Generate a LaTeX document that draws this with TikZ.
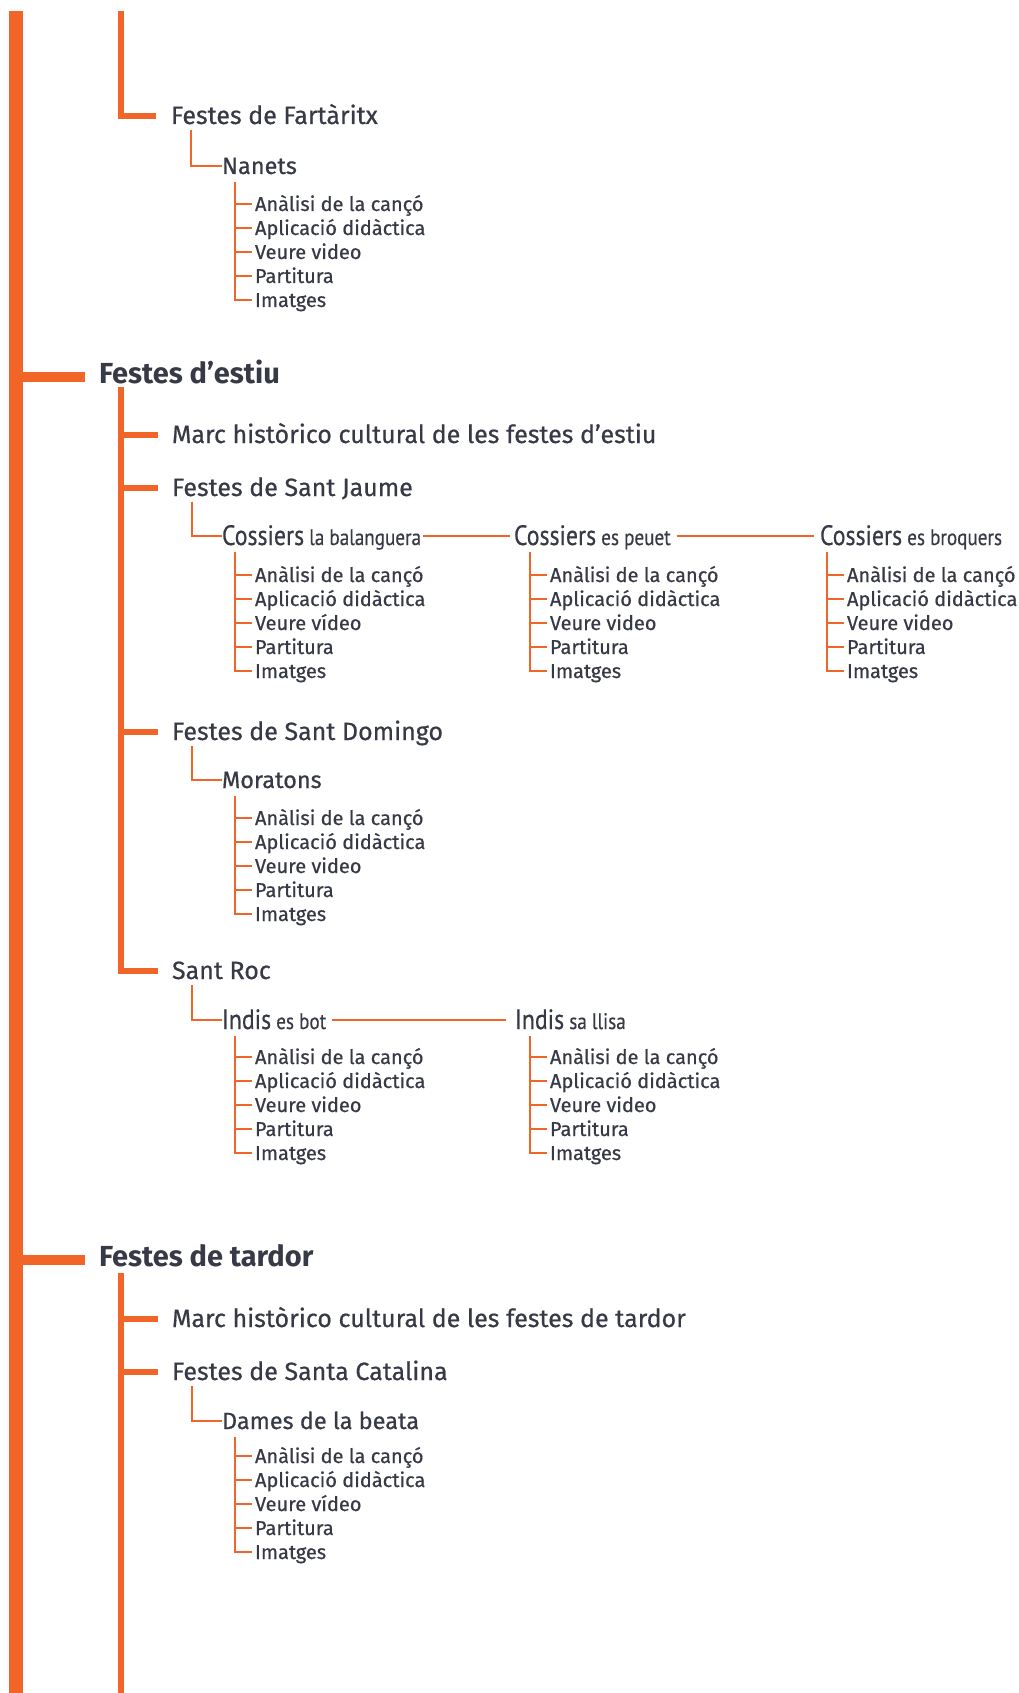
\documentclass[tikz,border=0pt]{standalone}
\usepackage{fontspec}
\setmainfont{Fira Sans}
\newfontfamily\heavyfont{Fira Sans}[FakeBold=0.6]
\newfontfamily\condfont{PT Sans}[FakeStretch=0.85, FakeBold=0.4]
\definecolor{orng}{RGB}{241,102,40}
\definecolor{txt}{RGB}{55,58,70}
\newcommand\smalltag[1]{{\fontsize{22.5}{22.5}\selectfont\ #1}}
\newcommand\leafset[5]{%
  \node[leaf] (#1a) at (#3,#4) {Anàlisi de la cançó};
  \node[leaf] (#1b) at (#3,#4+24) {Aplicació didàctica};
  \node[leaf] (#1c) at (#3,#4+48) {#5};
  \node[leaf] (#1d) at (#3,#4+72) {Partitura};
  \node[leaf] (#1e) at (#3,#4+96) {Imatges};
  \path ([yshift=-16pt]#2.west) coordinate (#1top);
  \path ([xshift=-20pt]#1a.west) coordinate (#1ax);
  \draw[thin] (#1top -| #1ax) |- ([xshift=-3pt]#1e.west);
  \foreach \q in {a,b,c,d} \draw[thin] (#1\q.west -| #1ax) -- ([xshift=-3pt]#1\q.west);
}
\begin{document}
\begin{tikzpicture}[x=1pt,y=-1pt,
  every node/.style={inner sep=0pt, outer sep=0pt, anchor=west, text=txt},
  head/.style={font=\bfseries\fontsize{29}{29}\selectfont, text height=16pt, text depth=4pt},
  lvltwo/.style={font=\heavyfont\fontsize{25}{25}\selectfont, text height=18pt, text depth=2pt},
  lvlthree/.style={font=\heavyfont\fontsize{23.5}{23.5}\selectfont, text height=18pt, text depth=2pt},
  cond/.style={font=\condfont\fontsize{28}{28}\selectfont, text height=18pt, text depth=0pt},
  leaf/.style={font=\heavyfont\fontsize{20}{20}\selectfont, text height=16pt, text depth=2pt},
  trunk/.style={draw=orng, line width=14pt},
  bar/.style={draw=orng, line width=6.5pt},
  headbar/.style={draw=orng, line width=10pt},
  thin/.style={draw=orng, line width=2pt},
]
\useasboundingbox (0,0) rectangle (1019,1693);
% trunk
\coordinate (ttop) at (16,11);
\coordinate (tbot) at (16,1693);
\draw[trunk] (ttop) -- (tbot);

% ---- top part
\node[lvltwo] (fartaritx) at (171,116) {Festes de Fartàritx};
\coordinate (s1top) at (121,11);
\draw[bar] (s1top) |- ([xshift=-15pt]fartaritx.west);
\node[lvlthree] (nanets) at (222,166) {Nanets};
\draw[thin] ([xshift=19.5pt,yshift=-14pt]fartaritx.west) |- (nanets.west);
\leafset{na}{nanets}{255}{204}{Veure video}

% ---- Festes d'estiu
\node[head] (estiu) at (99,377) {Festes d’estiu};
\draw[headbar] (estiu.west -| ttop) -- ([xshift=-14pt]estiu.west);
\node[lvltwo] (marce) at (172,435) {Marc històrico cultural de les festes d’estiu};
\node[lvltwo] (jaume) at (172,488) {Festes de Sant Jaume};
\node[lvltwo] (domingo) at (172,732) {Festes de Sant Domingo};
\node[lvltwo] (roc) at (172,971) {Sant Roc};
\coordinate (s2top) at (121,387);
\draw[bar] (s2top) |- ([xshift=-14pt]roc.west);
\foreach \n in {marce,jaume,domingo}
  \draw[bar] (\n.west -| s2top) -- ([xshift=-14pt]\n.west);

% Sant Jaume
\node[cond] (cos1) at (222,536) {Cossiers\smalltag{la balanguera}};
\node[cond] (cos2) at (514,536) {Cossiers\smalltag{es peuet}};
\node[cond] (cos3) at (820,536) {Cossiers\smalltag{es broquers}};
\draw[thin] ([xshift=2pt]cos1.east) -- ([xshift=-4pt]cos2.west);
\draw[thin] ([xshift=6pt]cos2.east) -- ([xshift=-6pt]cos3.west);
\draw[thin] ([xshift=19.5pt,yshift=-14pt]jaume.west) |- (cos1.west);
\leafset{ca}{cos1}{255}{575}{Veure vídeo}
\leafset{cb}{cos2}{550}{575}{Veure video}
\leafset{cc}{cos3}{847}{575}{Veure video}

% Sant Domingo
\node[lvlthree] (moratons) at (222,780) {Moratons};
\draw[thin] ([xshift=19.5pt,yshift=-14pt]domingo.west) |- (moratons.west);
\leafset{mo}{moratons}{255}{818}{Veure video}

% Sant Roc
\node[cond] (ind1) at (222,1020) {Indis\smalltag{es bot}};
\node[cond] (ind2) at (515,1020) {Indis\smalltag{sa llisa}};
\draw[thin] ([xshift=19.5pt,yshift=-14pt]roc.west) |- (ind1.west);
\draw[thin] ([xshift=6pt]ind1.east) -- ([xshift=-9pt]ind2.west);
\leafset{ia}{ind1}{255}{1057}{Veure video}
\leafset{ib}{ind2}{550}{1057}{Veure video}

% ---- Festes de tardor
\node[head] (tardor) at (99,1260) {Festes de tardor};
\draw[headbar] (tardor.west -| ttop) -- ([xshift=-14pt]tardor.west);
\node[lvltwo] (marct) at (172,1319) {Marc històrico cultural de les festes de tardor};
\node[lvltwo] (catalina) at (172,1372) {Festes de Santa Catalina};
\coordinate (s3top) at (121,1273);
\coordinate (s3bot) at (121,1693);
\draw[bar] (s3top) -- (s3bot);
\foreach \n in {marct,catalina}
  \draw[bar] (\n.west -| s3top) -- ([xshift=-14pt]\n.west);
\node[lvlthree] (dames) at (222,1421) {Dames de la beata};
\draw[thin] ([xshift=19.5pt,yshift=-14pt]catalina.west) |- (dames.west);
\leafset{da}{dames}{255}{1456}{Veure vídeo}
\end{tikzpicture}
\end{document}
